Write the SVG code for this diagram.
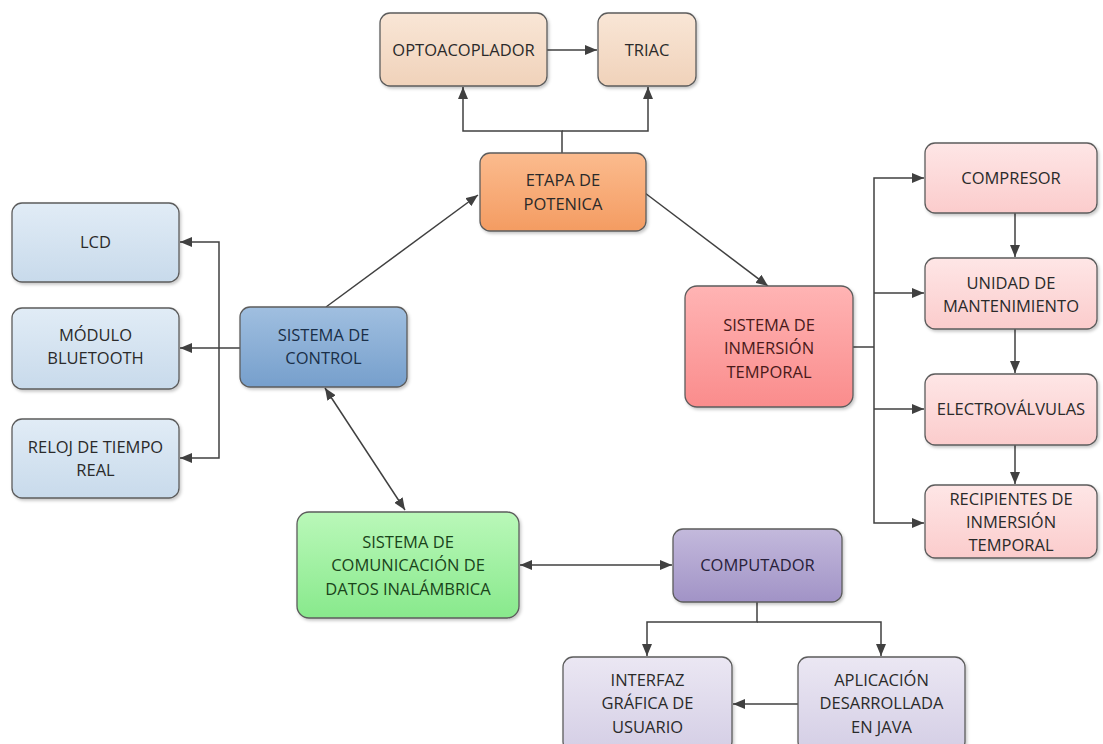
<svg xmlns="http://www.w3.org/2000/svg" width="1103" height="744" viewBox="0 0 1103 744">
<defs>
<linearGradient id="gPeach" x1="0" y1="0" x2="0" y2="1"><stop offset="0" stop-color="#f9e6d6"/><stop offset="1" stop-color="#f0d2ba"/></linearGradient>
<linearGradient id="gOrange" x1="0" y1="0" x2="0" y2="1"><stop offset="0" stop-color="#fbbb8e"/><stop offset="1" stop-color="#f49c62"/></linearGradient>
<linearGradient id="gLBlue" x1="0" y1="0" x2="0" y2="1"><stop offset="0" stop-color="#e1ecf6"/><stop offset="1" stop-color="#c8daeb"/></linearGradient>
<linearGradient id="gBlue" x1="0" y1="0" x2="0" y2="1"><stop offset="0" stop-color="#a0bfe0"/><stop offset="1" stop-color="#769fcc"/></linearGradient>
<linearGradient id="gRed" x1="0" y1="0" x2="0" y2="1"><stop offset="0" stop-color="#ffb4b4"/><stop offset="1" stop-color="#fa8c8c"/></linearGradient>
<linearGradient id="gPink" x1="0" y1="0" x2="0" y2="1"><stop offset="0" stop-color="#fee6e6"/><stop offset="1" stop-color="#fbcccc"/></linearGradient>
<linearGradient id="gGreen" x1="0" y1="0" x2="0" y2="1"><stop offset="0" stop-color="#baf8b9"/><stop offset="1" stop-color="#88e98c"/></linearGradient>
<linearGradient id="gPurple" x1="0" y1="0" x2="0" y2="1"><stop offset="0" stop-color="#c3b9dc"/><stop offset="1" stop-color="#a193c6"/></linearGradient>
<linearGradient id="gLPurple" x1="0" y1="0" x2="0" y2="1"><stop offset="0" stop-color="#ebe7f3"/><stop offset="1" stop-color="#d4cee5"/></linearGradient>
<filter id="sh" x="-10%" y="-10%" width="125%" height="130%"><feDropShadow dx="1.5" dy="2" stdDeviation="1.5" flood-color="#000" flood-opacity="0.22"/></filter>
<marker id="ah" viewBox="0 0 12 10" refX="12" refY="5" markerWidth="12" markerHeight="10" markerUnits="userSpaceOnUse" orient="auto-start-reverse"><path d="M0,0 L12,5 L0,10 z" fill="#404040"/></marker>
<style>
.box{stroke:#5c5c5c;stroke-width:1.3;filter:url(#sh)}
.t{font-family:"Open Sans","Liberation Sans",sans-serif;font-size:16.5px;text-anchor:middle;fill:#2a2a2a}
.c{fill:none;stroke:#404040;stroke-width:1.5}
.a{marker-end:url(#ah)}
.b{marker-start:url(#ah);marker-end:url(#ah)}
</style>
</defs>
<rect width="1103" height="744" fill="#ffffff"/>

<g id="connectors">
<path class="c a" d="M547,50 H597"/>
<path class="c a" d="M562,153 V131 H463 V87"/>
<path class="c a" d="M562,131 H648 V87"/>
<path class="c a" d="M326,307 L478,195"/>
<path class="c a" d="M240,348 H180"/>
<path class="c a" d="M219,348 V242 H180"/>
<path class="c a" d="M219,348 V458 H180"/>
<path class="c b" d="M325,388 L405,510"/>
<path class="c a" d="M645,193 L768,286"/>
<path class="c" d="M853,347 H874"/>
<path class="c a" d="M874,347 V178 H924"/>
<path class="c a" d="M874,347 V523 H924"/>
<path class="c a" d="M874,293 H924"/>
<path class="c a" d="M874,409 H924"/>
<path class="c a" d="M1015,213 V257"/>
<path class="c a" d="M1015,329 V373"/>
<path class="c a" d="M1015,445 V484"/>
<path class="c b" d="M520,565 H672"/>
<path class="c a" d="M757,602 V622 H647 V656"/>
<path class="c a" d="M757,622 H881 V656"/>
<path class="c a" d="M798,704 H733"/>
</g>

<g id="optoacoplador">
<rect class="box" x="380" y="13" width="167" height="73" rx="10" fill="url(#gPeach)"/>
<text class="t" x="463.5" y="56">OPTOACOPLADOR</text>
</g>
<g id="triac">
<rect class="box" x="598" y="13" width="98" height="73" rx="10" fill="url(#gPeach)"/>
<text class="t" x="647" y="56">TRIAC</text>
</g>
<g id="etapa">
<rect class="box" x="480" y="153" width="166" height="78" rx="10" fill="url(#gOrange)"/>
<text class="t" x="563" y="186">ETAPA DE</text>
<text class="t" x="563" y="210">POTENICA</text>
</g>
<g id="lcd">
<rect class="box" x="12" y="203" width="167" height="79" rx="10" fill="url(#gLBlue)"/>
<text class="t" x="95.5" y="248">LCD</text>
</g>
<g id="bluetooth">
<rect class="box" x="12" y="308" width="167" height="81" rx="10" fill="url(#gLBlue)"/>
<text class="t" x="95.5" y="341">MÓDULO</text>
<text class="t" x="95.5" y="364">BLUETOOTH</text>
</g>
<g id="reloj">
<rect class="box" x="12" y="419" width="167" height="79" rx="10" fill="url(#gLBlue)"/>
<text class="t" x="95.5" y="453">RELOJ DE TIEMPO</text>
<text class="t" x="95.5" y="476">REAL</text>
</g>
<g id="control">
<rect class="box" x="240" y="307" width="167" height="80" rx="10" fill="url(#gBlue)"/>
<text class="t" x="323.5" y="341" style="fill:#1a2f48">SISTEMA DE</text>
<text class="t" x="323.5" y="364" style="fill:#1a2f48">CONTROL</text>
</g>
<g id="inmersion">
<rect class="box" x="685" y="286" width="168" height="121" rx="12" fill="url(#gRed)"/>
<text class="t" x="769" y="331" style="fill:#4a1a1a">SISTEMA DE</text>
<text class="t" x="769" y="354" style="fill:#4a1a1a">INMERSIÓN</text>
<text class="t" x="769" y="378" style="fill:#4a1a1a">TEMPORAL</text>
</g>
<g id="compresor">
<rect class="box" x="925" y="143" width="172" height="70" rx="10" fill="url(#gPink)"/>
<text class="t" x="1011" y="184">COMPRESOR</text>
</g>
<g id="unidad">
<rect class="box" x="925" y="258" width="172" height="71" rx="10" fill="url(#gPink)"/>
<text class="t" x="1011" y="289">UNIDAD DE</text>
<text class="t" x="1011" y="312">MANTENIMIENTO</text>
</g>
<g id="electrovalvulas">
<rect class="box" x="925" y="374" width="172" height="71" rx="10" fill="url(#gPink)"/>
<text class="t" x="1011" y="415">ELECTROVÁLVULAS</text>
</g>
<g id="recipientes">
<rect class="box" x="925" y="485" width="172" height="73" rx="10" fill="url(#gPink)"/>
<text class="t" x="1011" y="505">RECIPIENTES DE</text>
<text class="t" x="1011" y="528">INMERSIÓN</text>
<text class="t" x="1011" y="551">TEMPORAL</text>
</g>
<g id="comunicacion">
<rect class="box" x="297" y="512" width="222" height="106" rx="12" fill="url(#gGreen)"/>
<text class="t" x="408" y="548" style="fill:#1a441a">SISTEMA DE</text>
<text class="t" x="408" y="571" style="fill:#1a441a">COMUNICACIÓN DE</text>
<text class="t" x="408" y="595" style="fill:#1a441a">DATOS INALÁMBRICA</text>
</g>
<g id="computador">
<rect class="box" x="673" y="529" width="169" height="73" rx="10" fill="url(#gPurple)"/>
<text class="t" x="757.5" y="571" style="fill:#28213a">COMPUTADOR</text>
</g>
<g id="interfaz">
<rect class="box" x="563" y="657" width="169" height="95" rx="10" fill="url(#gLPurple)"/>
<text class="t" x="647.5" y="686">INTERFAZ</text>
<text class="t" x="647.5" y="709">GRÁFICA DE</text>
<text class="t" x="647.5" y="733">USUARIO</text>
</g>
<g id="aplicacion">
<rect class="box" x="798" y="657" width="167" height="95" rx="10" fill="url(#gLPurple)"/>
<text class="t" x="881.5" y="686">APLICACIÓN</text>
<text class="t" x="881.5" y="709">DESARROLLADA</text>
<text class="t" x="881.5" y="733">EN JAVA</text>
</g>
</svg>
